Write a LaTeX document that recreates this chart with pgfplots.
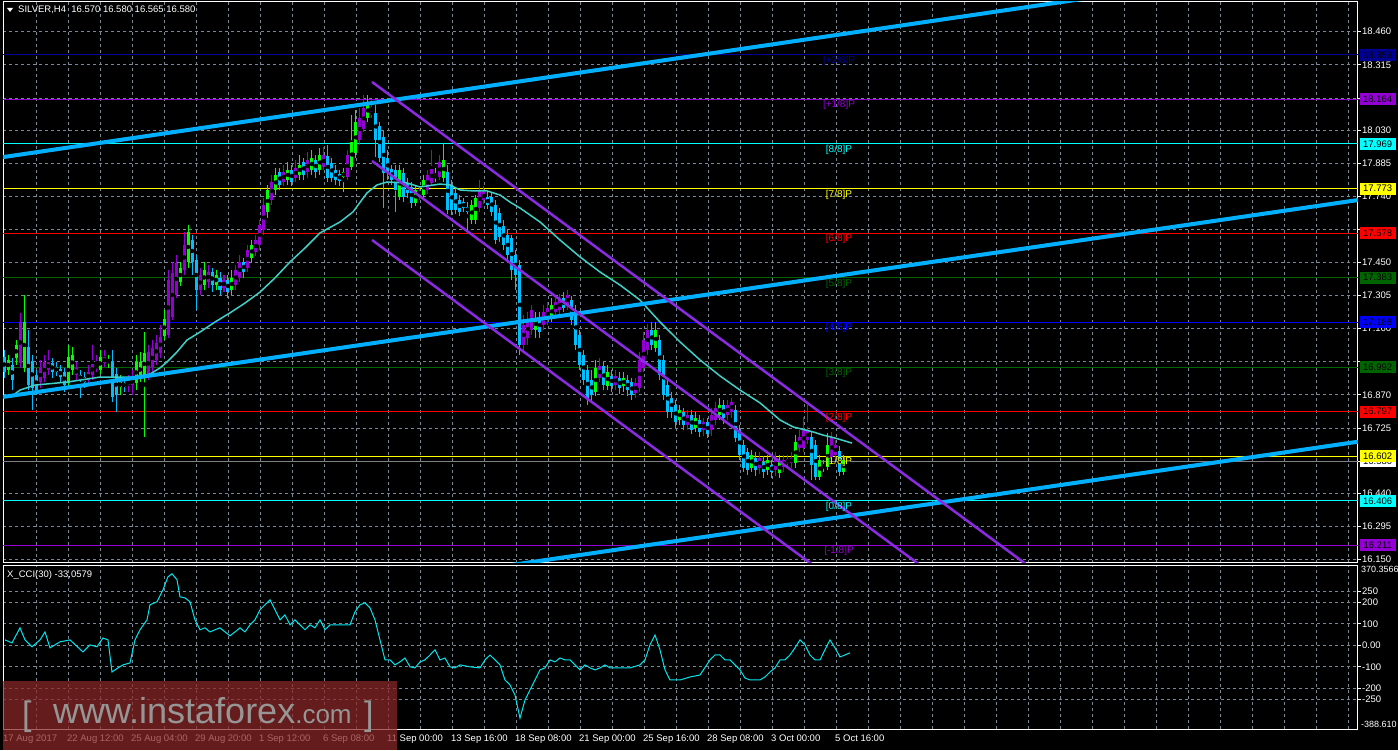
\documentclass[border=0pt]{standalone}
\usepackage{fontspec}
\setmainfont{Liberation Sans}
\usepackage{pgfplots}
\usepackage{pgfplotstable}
\pgfplotsset{compat=1.18}

\definecolor{bull}{RGB}{148,0,211}
\definecolor{bear}{RGB}{0,191,255}
\definecolor{upg}{RGB}{0,255,0}
\definecolor{trend}{RGB}{0,176,255}
\definecolor{chan}{RGB}{138,43,226}
\definecolor{ma}{RGB}{64,208,200}
\definecolor{ccic}{RGB}{0,230,240}
\definecolor{gridc}{RGB}{119,136,153}
\definecolor{lvnavy}{RGB}{0,0,150}
\definecolor{lvviolet}{RGB}{148,0,211}
\definecolor{lvaqua}{RGB}{0,255,255}
\definecolor{lvyellow}{RGB}{255,255,0}
\definecolor{lvred}{RGB}{255,0,0}
\definecolor{lvgreen}{RGB}{0,100,0}
\definecolor{lvblue}{RGB}{0,0,255}
\definecolor{wm}{RGB}{140,40,40}
\definecolor{wmtext}{RGB}{150,150,150}

% SILVER H4 candles: bar index, open, high, low, close, colour (0 down, 1 up, 2 up/green)
\pgfplotstableread{
i o h l c k
0 17.036 17.067 16.944 16.970 0
1 16.979 17.045 16.957 17.023 2
2 17.001 17.032 16.891 16.935 0
3 17.032 17.110 17.001 17.089 2
4 17.010 17.229 16.988 17.189 1
5 16.988 17.307 16.970 17.189 2
6 17.080 17.154 16.891 16.913 0
7 17.019 17.045 16.804 16.900 0
8 16.957 16.979 16.870 16.891 0
9 16.926 17.023 16.900 16.988 1
10 16.944 17.045 16.926 17.014 1
11 16.979 17.067 16.957 17.014 1
12 17.010 17.032 16.944 16.970 0
13 16.992 17.014 16.953 16.970 0
14 16.983 17.001 16.926 16.948 0
15 16.970 16.988 16.882 16.913 0
16 16.922 17.089 16.900 17.036 2
17 16.979 17.080 16.957 17.045 2
18 16.957 17.014 16.935 16.988 1
19 16.957 16.979 16.857 16.935 0
20 16.948 16.970 16.900 16.926 0
21 16.935 17.001 16.913 16.970 1
22 16.957 17.089 16.935 17.005 1
23 16.988 17.045 16.970 17.001 1
24 16.979 17.067 16.961 17.036 2
25 17.010 17.067 16.992 17.036 1
26 17.014 17.045 16.988 17.023 2
27 17.014 17.067 16.839 16.861 0
28 16.961 16.988 16.795 16.870 0
29 16.904 16.957 16.870 16.926 2
30 16.922 16.944 16.882 16.904 0
31 16.913 16.957 16.882 16.935 1
32 16.913 16.979 16.870 16.944 1
33 16.922 17.045 16.891 17.014 2
34 16.948 17.058 16.926 17.014 2
35 16.957 17.145 16.686 17.054 2
36 16.957 17.089 16.935 17.058 1
37 16.988 17.110 16.970 17.076 1
38 17.023 17.132 17.001 17.098 1
39 17.054 17.176 17.032 17.124 1
40 17.128 17.242 17.110 17.202 2
41 17.132 17.417 17.119 17.373 1
42 17.211 17.452 17.198 17.404 1
43 17.307 17.483 17.294 17.448 1
44 17.364 17.452 17.347 17.426 2
45 17.417 17.583 17.395 17.526 1
46 17.452 17.614 17.426 17.583 2
47 17.548 17.570 17.395 17.452 0
48 17.461 17.483 17.242 17.329 0
49 17.329 17.426 17.307 17.395 1
50 17.351 17.452 17.329 17.417 2
51 17.364 17.439 17.338 17.408 1
52 17.408 17.426 17.320 17.351 0
53 17.351 17.417 17.329 17.395 2
54 17.382 17.408 17.307 17.329 0
55 17.338 17.395 17.320 17.373 1
56 17.373 17.395 17.294 17.320 0
57 17.329 17.417 17.307 17.382 2
58 17.351 17.439 17.329 17.417 1
59 17.382 17.483 17.364 17.452 1
60 17.452 17.470 17.382 17.408 0
61 17.426 17.526 17.408 17.504 1
62 17.470 17.548 17.452 17.526 2
63 17.496 17.570 17.478 17.548 1
64 17.526 17.636 17.504 17.614 1
65 17.592 17.732 17.570 17.701 1
66 17.671 17.789 17.645 17.767 2
67 17.723 17.833 17.701 17.802 1
68 17.767 17.863 17.745 17.833 2
69 17.846 17.863 17.767 17.789 0
70 17.802 17.877 17.785 17.846 1
71 17.811 17.890 17.789 17.855 2
72 17.855 17.877 17.785 17.802 0
73 17.820 17.898 17.802 17.863 1
74 17.833 17.920 17.811 17.877 2
75 17.890 17.907 17.811 17.833 0
76 17.846 17.933 17.820 17.898 1
77 17.855 17.942 17.833 17.907 2
78 17.898 17.920 17.820 17.846 0
79 17.855 17.951 17.833 17.920 2
80 17.868 17.955 17.855 17.920 1
81 17.916 17.964 17.802 17.820 0
82 17.885 17.907 17.802 17.820 0
83 17.855 17.877 17.789 17.811 0
84 17.837 17.855 17.785 17.807 0
85 17.824 17.863 17.758 17.846 2
86 17.824 17.942 17.811 17.920 1
87 17.868 18.095 17.855 17.977 2
88 17.929 18.117 17.907 18.065 2
89 17.986 18.126 17.964 18.082 1
90 18.034 18.183 18.021 18.126 1
91 18.082 18.183 18.065 18.148 2
92 18.095 18.161 18.082 18.113 1
93 18.104 18.139 17.912 17.986 0
94 18.047 18.065 17.890 17.907 0
95 17.999 18.030 17.688 17.842 0
96 17.907 17.942 17.811 17.842 0
97 17.859 17.877 17.789 17.811 0
98 17.855 17.877 17.671 17.767 0
99 17.736 17.877 17.723 17.855 2
100 17.842 17.863 17.714 17.736 0
101 17.798 17.820 17.732 17.754 0
102 17.780 17.802 17.688 17.710 0
103 17.710 17.789 17.697 17.767 2
104 17.745 17.776 17.723 17.758 1
105 17.745 17.833 17.732 17.811 2
106 17.767 17.855 17.750 17.833 1
107 17.798 17.942 17.785 17.859 1
108 17.820 17.863 17.802 17.833 2
109 17.824 17.920 17.811 17.890 1
110 17.820 17.973 17.802 17.898 2
111 17.846 17.877 17.662 17.680 0
112 17.789 17.811 17.658 17.680 0
113 17.754 17.776 17.662 17.680 0
114 17.723 17.745 17.653 17.671 0
115 17.714 17.732 17.671 17.688 0
116 17.693 17.714 17.592 17.671 0
117 17.636 17.723 17.618 17.701 2
118 17.636 17.745 17.618 17.732 2
119 17.688 17.811 17.671 17.767 1
120 17.723 17.785 17.706 17.758 1
121 17.736 17.758 17.684 17.701 0
122 17.736 17.758 17.653 17.671 0
123 17.701 17.723 17.531 17.548 0
124 17.666 17.688 17.539 17.561 0
125 17.610 17.636 17.504 17.526 0
126 17.570 17.592 17.461 17.483 0
127 17.557 17.570 17.373 17.417 0
128 17.483 17.504 17.329 17.395 0
129 17.439 17.461 17.045 17.089 0
130 17.089 17.220 17.058 17.176 1
131 17.119 17.233 17.089 17.198 1
132 17.154 17.264 17.132 17.242 1
133 17.154 17.233 17.119 17.207 2
134 17.207 17.233 17.119 17.145 0
135 17.176 17.264 17.154 17.233 1
136 17.198 17.277 17.176 17.251 1
137 17.207 17.294 17.189 17.264 2
138 17.233 17.303 17.215 17.277 1
139 17.242 17.312 17.224 17.285 1
140 17.294 17.320 17.233 17.251 0
141 17.264 17.329 17.242 17.307 1
142 17.285 17.303 17.176 17.198 0
143 17.242 17.264 17.067 17.089 0
144 17.132 17.154 16.979 17.001 0
145 17.045 17.067 16.913 16.935 0
146 16.979 17.001 16.826 16.857 0
147 16.935 16.979 16.839 16.870 0
148 16.882 17.023 16.865 16.988 2
149 16.944 17.032 16.926 16.997 1
150 16.997 17.014 16.891 16.913 0
151 16.909 17.001 16.891 16.970 2
152 16.953 16.979 16.882 16.909 0
153 16.913 16.979 16.891 16.953 1
154 16.944 16.970 16.874 16.900 0
155 16.909 16.970 16.882 16.944 2
156 16.935 16.957 16.865 16.891 0
157 16.926 16.944 16.848 16.870 0
158 16.878 16.944 16.857 16.922 1
159 16.900 17.058 16.882 17.023 1
160 16.988 17.145 16.970 17.110 1
161 17.067 17.180 17.045 17.154 1
162 17.154 17.189 17.067 17.089 0
163 17.076 17.189 17.058 17.154 2
164 17.110 17.132 16.935 16.957 0
165 17.023 17.045 16.848 16.870 0
166 16.913 16.935 16.769 16.795 0
167 16.857 16.882 16.769 16.795 0
168 16.826 16.848 16.725 16.751 0
169 16.760 16.826 16.738 16.804 2
170 16.795 16.813 16.716 16.738 0
171 16.738 16.804 16.716 16.782 1
172 16.782 16.804 16.699 16.716 0
173 16.725 16.795 16.708 16.769 2
174 16.760 16.782 16.686 16.708 0
175 16.716 16.769 16.690 16.751 1
176 16.751 16.769 16.681 16.699 0
177 16.716 16.813 16.690 16.782 1
178 16.760 16.839 16.738 16.813 1
179 16.782 16.857 16.760 16.826 2
180 16.826 16.848 16.742 16.769 0
181 16.782 16.848 16.760 16.826 1
182 16.795 16.857 16.769 16.839 1
183 16.804 16.826 16.664 16.681 0
184 16.716 16.738 16.585 16.607 0
185 16.651 16.673 16.532 16.550 0
186 16.620 16.638 16.519 16.541 0
187 16.550 16.629 16.532 16.607 2
188 16.594 16.620 16.515 16.541 0
189 16.550 16.620 16.523 16.594 1
190 16.576 16.603 16.506 16.532 0
191 16.541 16.607 16.519 16.585 2
192 16.563 16.585 16.506 16.532 0
193 16.541 16.620 16.515 16.594 1
194 16.528 16.607 16.506 16.576 2
195 16.554 16.607 16.532 16.585 1
196 16.572 16.607 16.550 16.589 1
197 16.572 16.620 16.550 16.594 1
198 16.572 16.694 16.550 16.664 2
199 16.638 16.716 16.620 16.686 1
200 16.638 16.773 16.620 16.721 1
201 16.673 16.826 16.655 16.716 1
202 16.686 16.708 16.497 16.563 0
203 16.651 16.673 16.497 16.510 0
204 16.510 16.607 16.497 16.585 2
205 16.563 16.585 16.532 16.550 0
206 16.554 16.703 16.541 16.651 2
207 16.598 16.708 16.585 16.681 1
208 16.607 16.673 16.585 16.651 1
209 16.625 16.646 16.515 16.532 0
210 16.532 16.607 16.519 16.585 2
211 16.570 16.580 16.565 16.580 1
}\candles

\pgfplotsset{
  mtaxis/.style={
    scale only axis, width=1355pt, xmin=-0.25, xmax=338.5,
    axis line style={white, line width=1pt},
    grid=major, major grid style={gridc, line width=0.8pt, dash pattern=on 3pt off 3pt},
    xtick={8,16,...,336}, xticklabels={}, xtick style={draw=none}, xtick pos=bottom,
    ytick pos=right, yticklabel pos=right, tick align=outside, major tick length=3pt,
    ytick style={white, line width=0.8pt},
    tick label style={font=\fontsize{9.5}{11}\selectfont, text=white},
    yticklabel style={anchor=west, inner sep=1pt},
    clip mode=individual},
  wick/.style={only marks, mark=none, forget plot,
    error bars/y dir=both, error bars/y explicit, error bars/error mark=none,
    error bars/error bar style={line width=1pt, draw=#1, solid}},
  body/.style={only marks, mark=none, forget plot,
    error bars/y dir=both, error bars/y explicit, error bars/error mark=none,
    error bars/error bar style={line width=3pt, draw=#1, solid}},
}

\newcommand{\candleset}[2]{%
  \addplot[wick=#2, restrict expr to domain={\thisrow{k}}{#1:#1}]
    table[x=i, y expr={(\thisrow{h}+\thisrow{l})/2}, y error expr={(\thisrow{h}-\thisrow{l})/2}] {\candles};
  \addplot[body=#2, restrict expr to domain={\thisrow{k}}{#1:#1}]
    table[x=i, y expr={(\thisrow{o}+\thisrow{c})/2}, y error expr={max(abs(\thisrow{o}-\thisrow{c})/2,0.0022)}] {\candles};
}

\begin{document}
\begin{tikzpicture}
\useasboundingbox (0,0) rectangle (1398pt,750pt);
\fill[black] (0,0) rectangle (1398pt,750pt);

% ---------------- price panel ----------------
\begin{axis}[mtaxis, at={(3pt,187pt)}, anchor=south west, height=561pt,
  ymin=16.134, ymax=18.590,
  ytick={16.150,16.295,16.440,16.580,16.725,16.870,17.015,17.160,17.305,17.450,17.595,17.740,17.885,18.030,18.170,18.315,18.460},
  yticklabels={16.150,16.295,16.440,,16.725,16.870,,17.160,17.305,17.450,,17.740,17.885,18.030,,18.315,18.460}]

% Murrey levels
\addplot[lvnavy, line width=1pt] coordinates {(-1,18.359) (340,18.359)};
\addplot[lvviolet, line width=1pt] coordinates {(-1,18.164) (340,18.164)};
\addplot[lvaqua, line width=1pt] coordinates {(-1,17.969) (340,17.969)};
\addplot[lvyellow, line width=1pt] coordinates {(-1,17.773) (340,17.773)};
\addplot[lvred, line width=1pt] coordinates {(-1,17.578) (340,17.578)};
\addplot[lvgreen, line width=1pt] coordinates {(-1,17.383) (340,17.383)};
\addplot[lvblue, line width=1pt] coordinates {(-1,17.188) (340,17.188)};
\addplot[lvgreen, line width=1pt] coordinates {(-1,16.992) (340,16.992)};
\addplot[lvred, line width=1pt] coordinates {(-1,16.797) (340,16.797)};
\addplot[lvyellow, line width=1pt] coordinates {(-1,16.602) (340,16.602)};
\addplot[lvaqua, line width=1pt] coordinates {(-1,16.406) (340,16.406)};
\addplot[lvviolet, line width=1pt] coordinates {(-1,16.211) (340,16.211)};
% bid line
\addplot[gray, line width=1pt] coordinates {(-1,16.580) (340,16.580)};

% candles
\candleset{0}{bear}
\candleset{1}{bull}
\candleset{2}{upg}

% moving average
\addplot[ma, line width=1.5pt] coordinates {
(2,16.865) (4,16.891) (7.75,16.913) (15.75,16.926) (24,16.948) (32.25,16.948)
(36.5,16.961) (39,16.988) (40.75,17.014) (43.25,17.058) (45.75,17.110) (49,17.145)
(52.75,17.189) (56.5,17.229) (60.25,17.272) (64,17.320) (67.75,17.382) (71.5,17.452)
(75.25,17.513) (79,17.579) (84,17.627) (87.25,17.671) (90.75,17.754) (93.25,17.789)
(95.75,17.802) (100.75,17.798) (104,17.780) (109,17.793) (111.5,17.789) (114,17.767)
(117.25,17.763) (120.75,17.763) (124,17.745) (126.5,17.714) (129,17.688) (134,17.627)
(139,17.548) (144,17.474) (149,17.408) (154,17.351) (159,17.285) (164,17.189)
(169,17.102) (174,17.023) (179,16.953) (184,16.891) (189,16.835) (194,16.760)
(197.25,16.730) (202.25,16.708) (204.75,16.694) (207.75,16.681) (212,16.659)};

% trend channel (thick)
\addplot[trend, line width=4pt] coordinates {(-0.25,17.911) (338.5,18.780)};
\addplot[trend, line width=4pt] coordinates {(-0.25,16.861) (338.5,17.723)};
\addplot[trend, line width=4pt] coordinates {(124,16.118) (338.5,16.665)};
% falling channel
\addplot[chan, line width=2.5pt] coordinates {(92,18.240) (260,16.071)};
\addplot[chan, line width=2.5pt] coordinates {(92,17.894) (240,15.983)};
\addplot[chan, line width=2.5pt] coordinates {(92,17.548) (220,15.896)};

% level captions
\begin{scope}[every node/.style={anchor=north, inner sep=1pt, font=\fontsize{10}{11}\selectfont}]
\node[text=lvnavy] at (axis cs:208.75,18.359) {[+2/8]P};
\node[text=lvviolet] at (axis cs:208.75,18.164) {[+1/8]P};
\node[text=lvaqua] at (axis cs:208.75,17.969) {[8/8]P};
\node[text=lvyellow] at (axis cs:208.75,17.773) {[7/8]P};
\node[text=lvred] at (axis cs:208.75,17.578) {[6/8]P};
\node[text=lvgreen] at (axis cs:208.75,17.383) {[5/8]P};
\node[text=lvblue] at (axis cs:208.75,17.188) {[4/8]P};
\node[text=lvgreen] at (axis cs:208.75,16.992) {[3/8]P};
\node[text=lvred] at (axis cs:208.75,16.797) {[2/8]P};
\node[text=lvyellow] at (axis cs:208.75,16.602) {[1/8]P};
\node[text=lvaqua] at (axis cs:208.75,16.406) {[0/8]P};
\node[text=lvviolet] at (axis cs:208.75,16.211) {[-1/8]P};
\end{scope}

% price boxes on the scale
\begin{scope}[every node/.style={anchor=west, inner sep=0pt, minimum width=36pt, minimum height=12pt, xshift=1.5pt, text=black, font=\fontsize{9.5}{11}\selectfont}]
\node[fill=white] at (axis cs:338.5,16.580) {16.580};
\node[fill=lvnavy] at (axis cs:338.5,18.359) {18.359};
\node[fill=lvviolet] at (axis cs:338.5,18.164) {18.164};
\node[fill=lvaqua] at (axis cs:338.5,17.969) {17.969};
\node[fill=lvyellow] at (axis cs:338.5,17.773) {17.773};
\node[fill=lvred] at (axis cs:338.5,17.578) {17.578};
\node[fill=lvgreen] at (axis cs:338.5,17.383) {17.383};
\node[fill=lvblue] at (axis cs:338.5,17.188) {17.188};
\node[fill=lvgreen] at (axis cs:338.5,16.992) {16.992};
\node[fill=lvred] at (axis cs:338.5,16.797) {16.797};
\node[fill=lvyellow] at (axis cs:338.5,16.602) {16.602};
\node[fill=lvaqua] at (axis cs:338.5,16.406) {16.406};
\node[fill=lvviolet] at (axis cs:338.5,16.211) {16.211};
\end{scope}
\end{axis}

% ---------------- CCI panel ----------------
\begin{axis}[mtaxis, at={(3pt,21pt)}, anchor=south west, height=163.5pt,
  ymin=-388.61, ymax=370.3566,
  ytick={-250,-200,-100,0,100,200,250},
  yticklabels={-250,-200,-100,0.00,100,200,250},
  extra x ticks={0,16,...,208},
  extra x tick labels={17 Aug 2017,22 Aug 12:00,25 Aug 04:00,29 Aug 20:00,1 Sep 12:00,6 Sep 08:00,11 Sep 00:00,13 Sep 16:00,18 Sep 08:00,21 Sep 00:00,25 Sep 16:00,28 Sep 08:00,3 Oct 00:00,5 Oct 16:00},
  extra x tick style={grid=none, major tick length=5pt, tick style={draw=white, line width=1pt},
    xticklabel style={anchor=north west, inner sep=0pt, xshift=-1pt, yshift=-1pt}}]
\addplot[ccic, line width=1pt] coordinates {
(0.25,25) (2,11) (4,81) (5.25,25) (7,-7) (9,25) (10.25,62) (11.5,-12) (14,16) (16.5,25)
(19.75,-31) (21.5,2) (23.25,-7) (24.75,34) (26,25) (27,-124) (28.5,-105) (29.75,-91)
(31.5,-82) (32.75,25) (34,72) (35.75,118) (36.5,188) (38.25,202) (39.75,258) (41,318)
(42,332) (43.25,304) (44,225) (45.25,220) (46.5,202) (47.75,118) (49,72) (50.25,81)
(51.5,62) (52.75,72) (54,81) (55.25,62) (56.5,44) (57.75,62) (59,81) (60.25,62)
(61.5,95) (62.75,118) (64,165) (65.25,188) (66.5,211) (67.75,165) (69,118) (70.25,141)
(71.5,95) (72.75,118) (74,95) (75.25,72) (76.5,95) (77.75,81) (79,118) (80.25,72)
(81.5,95) (84,95) (86.5,95) (87.75,155) (89,188) (90.25,197) (91.5,174) (92.75,118)
(94,25) (95.25,-68) (96.5,-68) (97.75,-91) (99,-77) (100.25,-59) (101.5,-100) (102.75,-105)
(104,-77) (105.25,-68) (106.5,-45) (107.75,-21) (109,-68) (110.25,-59) (111.5,-100)
(112.75,-105) (114,-91) (116.5,-100) (119,-105) (120.25,-68) (121.5,-45) (122.75,-68)
(124,-91) (125.25,-161) (126.5,-184) (127.75,-231) (129,-338) (130.25,-254) (131.5,-207)
(132.75,-161) (134,-114) (135.25,-105) (136.5,-68) (137.75,-77) (139,-59) (140.25,-68)
(141.5,-68) (142.75,-91) (144,-114) (145.25,-91) (146.5,-105) (147.75,-114) (149,-105)
(150.25,-91) (151.5,-105) (154,-105) (156.5,-105) (159,-91) (160.25,-68) (161.5,2)
(162.75,48) (164,-21) (165.25,-114) (166.5,-161) (169,-161) (171.5,-147) (174,-138)
(176.5,-68) (177.75,-45) (179,-45) (180.25,-68) (181.5,-68) (182.75,-91) (184,-114)
(185.25,-152) (186.5,-161) (189,-161) (190.25,-147) (191.5,-124) (192.75,-105) (194,-68)
(195.25,-68) (196.5,-45) (197.75,-12) (199,25) (200.25,2) (201.5,-45) (202.75,-68)
(204,-68) (205.25,-21) (206.5,25) (207.75,-12) (209,-54) (210.25,-45) (211.5,-35)};
\node[anchor=north west, inner sep=1pt, xshift=2pt, text=white, font=\fontsize{9}{11}\selectfont] at (axis cs:338.5,370.3566) {370.3566};
\node[anchor=south west, inner sep=1pt, xshift=2pt, text=white, font=\fontsize{9}{11}\selectfont] at (axis cs:338.5,-388.61) {-388.610};
\end{axis}

% headers
\fill[white] (7pt,742pt) -- (13pt,742pt) -- (10pt,738pt) -- cycle;
\node[anchor=west, inner sep=0pt, text=white, font=\fontsize{9.5}{11}\selectfont] at (18pt,740pt) {SILVER,H4\ \ 16.570 16.580 16.565 16.580};
\node[anchor=west, inner sep=0pt, text=white, font=\fontsize{9.5}{11}\selectfont] at (7pt,175pt) {X\_CCI(30) -33,0579};

% watermark
\fill[wm, opacity=0.72] (3pt,0pt) rectangle (397pt,69pt);
\node[anchor=base west, inner sep=0pt, text=wmtext] at (53pt,27pt) {\fontsize{36}{36}\selectfont www.instaforex\fontsize{26}{26}\selectfont.com};
\node[anchor=base west, inner sep=0pt, text=wmtext] at (22pt,24pt) {\fontsize{34}{34}\selectfont [};
\node[anchor=base west, inner sep=0pt, text=wmtext] at (364pt,24pt) {\fontsize{34}{34}\selectfont ]};
\end{tikzpicture}
\end{document}
